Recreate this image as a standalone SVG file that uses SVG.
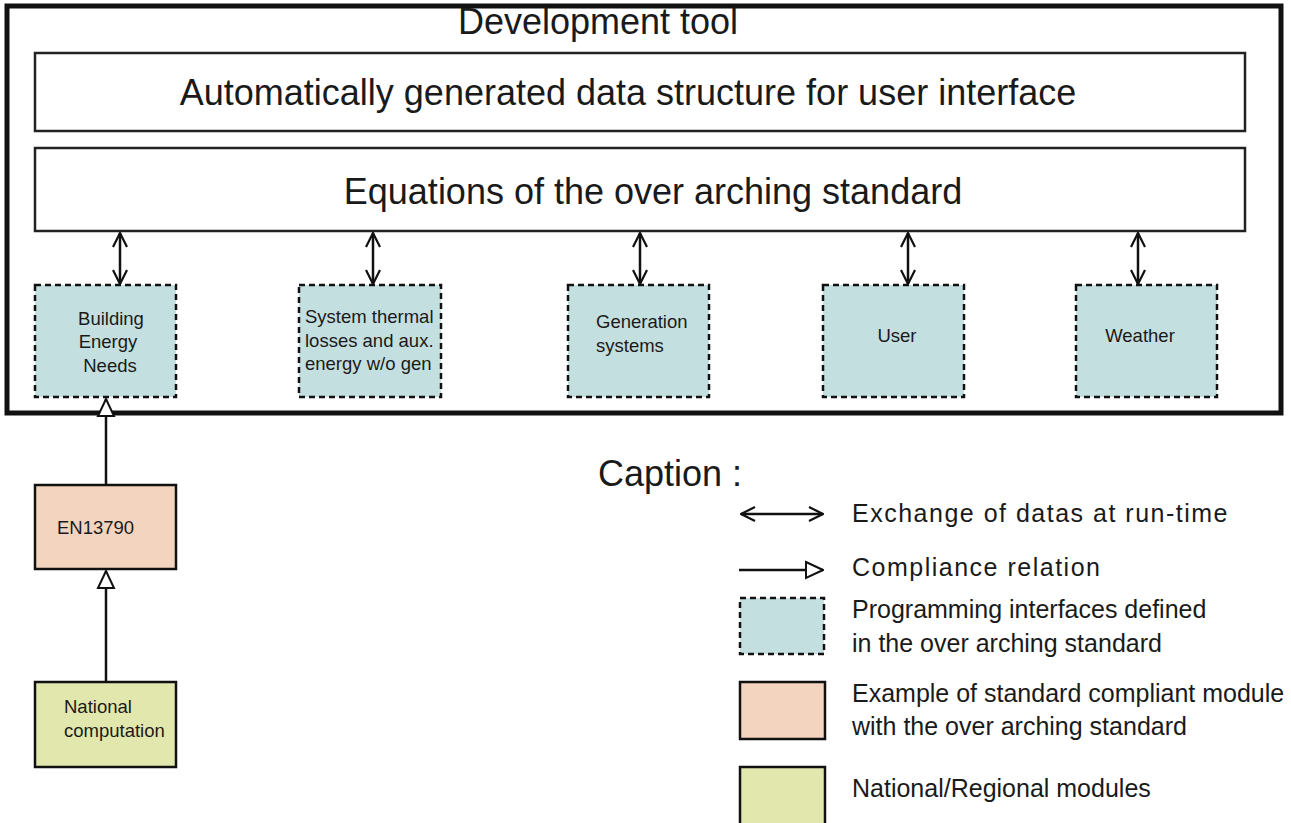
<svg xmlns="http://www.w3.org/2000/svg" width="1291" height="823" viewBox="0 0 1291 823">
<style>
text{font-family:"Liberation Sans",Arial,sans-serif;fill:#1a1a1a}
.big{font-size:36px}
.mid{font-size:25px}
.wide{letter-spacing:1.5px}
.sm{font-size:18.5px}
.iface{fill:#c4dfdf;stroke:#111;stroke-width:2.5;stroke-dasharray:6 4}
.pink{fill:#f3d4bf;stroke:#111;stroke-width:2.5}
.green{fill:#e2e7ad;stroke:#111;stroke-width:2.5}
.line{stroke:#111;stroke-width:2.5;fill:none}
</style>
<defs>
<marker id="open" viewBox="0 0 16 16" refX="15" refY="8" markerWidth="16" markerHeight="16" markerUnits="userSpaceOnUse" orient="auto-start-reverse">
<path d="M1,1 L15,8 L1,15" fill="none" stroke="#111" stroke-width="2.2"/>
</marker>
<marker id="tri" viewBox="0 0 20 20" refX="19" refY="10" markerWidth="20" markerHeight="20" markerUnits="userSpaceOnUse" orient="auto">
<path d="M2,2 L19,10 L2,18 Z" fill="#fff" stroke="#111" stroke-width="2"/>
</marker>
</defs>
<rect width="1291" height="823" fill="#fff"/>
<g id="frame">
<rect x="7" y="6" width="1274" height="407" fill="none" stroke="#111" stroke-width="5"/>
<text class="big" x="598" y="34" text-anchor="middle">Development tool</text>
</g>
<g id="datastruct">
<rect x="35" y="53" width="1210" height="78" fill="#fff" stroke="#222" stroke-width="2.5"/>
<text class="big" x="628" y="105" text-anchor="middle">Automatically generated data structure for user interface</text>
</g>
<g id="equations">
<rect x="35" y="148" width="1210" height="83" fill="#fff" stroke="#222" stroke-width="2.5"/>
<text class="big" x="653" y="204" text-anchor="middle">Equations of the over arching standard</text>
</g>
<g id="building">
<rect class="iface" x="35" y="285" width="141" height="112"/>
<text class="sm" x="111" y="325" text-anchor="middle">Building</text>
<text class="sm" x="108" y="348" text-anchor="middle">Energy</text>
<text class="sm" x="110" y="372" text-anchor="middle">Needs</text>
</g>
<g id="system">
<rect class="iface" x="299" y="285" width="142" height="112"/>
<text class="sm" x="305" y="323">System thermal</text>
<text class="sm" x="305" y="347">losses and aux.</text>
<text class="sm" x="305" y="370">energy w/o gen</text>
</g>
<g id="generation">
<rect class="iface" x="568" y="285" width="141" height="112"/>
<text class="sm" x="596" y="328">Generation</text>
<text class="sm" x="596" y="352">systems</text>
</g>
<g id="user">
<rect class="iface" x="823" y="285" width="141" height="112"/>
<text class="sm" x="897" y="342" text-anchor="middle">User</text>
</g>
<g id="weather">
<rect class="iface" x="1076" y="285" width="141" height="112"/>
<text class="sm" x="1140" y="342" text-anchor="middle">Weather</text>
</g>
<g id="en13790">
<rect class="pink" x="35" y="485" width="141" height="84"/>
<text class="sm" x="57" y="534">EN13790</text>
</g>
<g id="national">
<rect class="green" x="35" y="682" width="141" height="85"/>
<text class="sm" x="64" y="713">National</text>
<text class="sm" x="64" y="737">computation</text>
</g>
<g id="connectors">
<line class="line" x1="120" y1="233" x2="120" y2="284" marker-start="url(#open)" marker-end="url(#open)"/>
<line class="line" x1="373" y1="233" x2="373" y2="284" marker-start="url(#open)" marker-end="url(#open)"/>
<line class="line" x1="640" y1="233" x2="640" y2="284" marker-start="url(#open)" marker-end="url(#open)"/>
<line class="line" x1="908" y1="233" x2="908" y2="284" marker-start="url(#open)" marker-end="url(#open)"/>
<line class="line" x1="1138" y1="233" x2="1138" y2="284" marker-start="url(#open)" marker-end="url(#open)"/>
<line class="line" x1="106" y1="484" x2="106" y2="399" marker-end="url(#tri)"/>
<line class="line" x1="106" y1="681" x2="106" y2="571" marker-end="url(#tri)"/>
</g>
<g id="legend">
<text class="big" x="598" y="486">Caption :</text>
<line class="line" x1="741" y1="514" x2="823" y2="514" marker-start="url(#open)" marker-end="url(#open)"/>
<text class="mid wide" x="852" y="522">Exchange of datas at run-time</text>
<line class="line" x1="739" y1="570" x2="823" y2="570" marker-end="url(#tri)"/>
<text class="mid wide" x="852" y="576">Compliance relation</text>
<rect class="iface" x="740" y="598" width="84" height="56"/>
<text class="mid" x="852" y="618">Programming interfaces defined</text>
<text class="mid" x="852" y="652">in the over arching standard</text>
<rect class="pink" x="740" y="682" width="85" height="57"/>
<text class="mid" x="852" y="702">Example of standard compliant module</text>
<text class="mid" x="852" y="735">with the over arching standard</text>
<rect class="green" x="740" y="767" width="85" height="60"/>
<text class="mid" x="852" y="797">National/Regional modules</text>
</g>
</svg>
